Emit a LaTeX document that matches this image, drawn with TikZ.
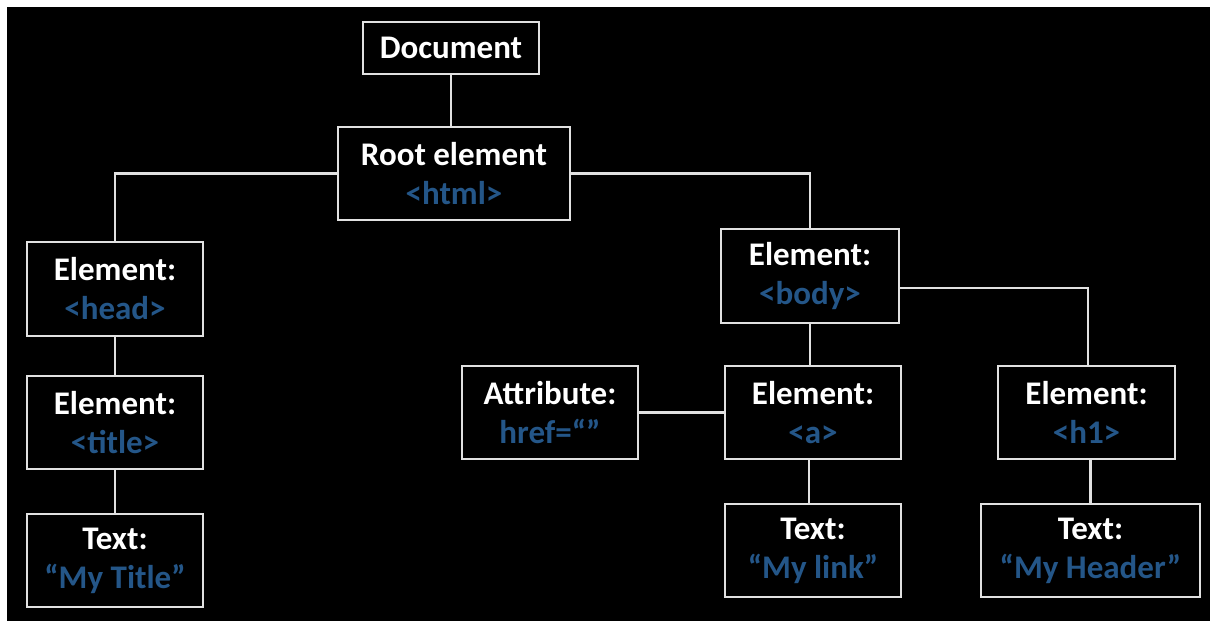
\documentclass[tikz,border=0pt]{standalone}
\usepackage{fontspec}
\setmainfont{Carlito}
\definecolor{tagblue}{RGB}{36,86,136}
\definecolor{edge}{RGB}{225,225,225}
\tikzset{
  box/.style={draw=edge, line width=2pt, fill=black, inner sep=0pt, align=center,
    font=\fontsize{33}{39}\selectfont\bfseries, text=white},
  conn/.style={draw=edge, line width=2.5pt}
}
\newcommand{\tg}[1]{\textcolor{tagblue}{#1}}
\begin{document}
\begin{tikzpicture}[x=1pt,y=-1pt]
\useasboundingbox (0,0) rectangle (1210,621);
\fill[white] (0,0) rectangle (1210,621);
\fill[black] (7,7) rectangle (1210,621);
\node[box, minimum width=176pt, minimum height=52pt] (doc) at (451,48) {Document};
\node[box, minimum width=232pt, minimum height=93pt] (root) at (454,173.5) {Root element\\\tg{<html>}};
\node[box, minimum width=176pt, minimum height=94pt] (head) at (115,289) {Element:\\\tg{<head>}};
\node[box, minimum width=176pt, minimum height=93pt] (title) at (115,422.5) {Element:\\\tg{<title>}};
\node[box, minimum width=176pt, minimum height=93pt] (mytitle) at (115,560.5) {Text:\\\tg{“My Title”}};
\node[box, minimum width=178pt, minimum height=94pt] (body) at (810,276) {Element:\\\tg{<body>}};
\node[box, minimum width=176pt, minimum height=93pt] (attr) at (550,412.5) {Attribute:\\\tg{href=“”}};
\node[box, minimum width=176pt, minimum height=93pt] (a) at (813,412.5) {Element:\\\tg{<a>}};
\node[box, minimum width=177pt, minimum height=93pt] (h1) at (1086.5,412.5) {Element:\\\tg{<h1>}};
\node[box, minimum width=176pt, minimum height=93pt] (mylink) at (813,550.5) {Text:\\\tg{“My link”}};
\node[box, minimum width=219pt, minimum height=93pt] (myheader) at (1090.5,550.5) {Text:\\\tg{“My Header”}};
\draw[conn] (doc.south) -- (doc.south |- root.north);
\draw[conn] (root.west) -| (head.north);
\draw[conn] (root.east) -| (body.north);
\draw[conn] (head.south) -- (title.north);
\draw[conn] (title.south) -- (mytitle.north);
\draw[conn] ([yshift=-12pt]body.east) -| ([xshift=1.5pt]h1.north);
\draw[conn] (body.south) -- (body.south |- a.north);
\draw[conn] (attr.east) -- (a.west);
\draw[conn] ([xshift=-4pt]a.south) -- ([xshift=-4pt]a.south |- mylink.north);
\draw[conn] (myheader.north |- h1.south) -- (myheader.north);
\end{tikzpicture}
\end{document}
